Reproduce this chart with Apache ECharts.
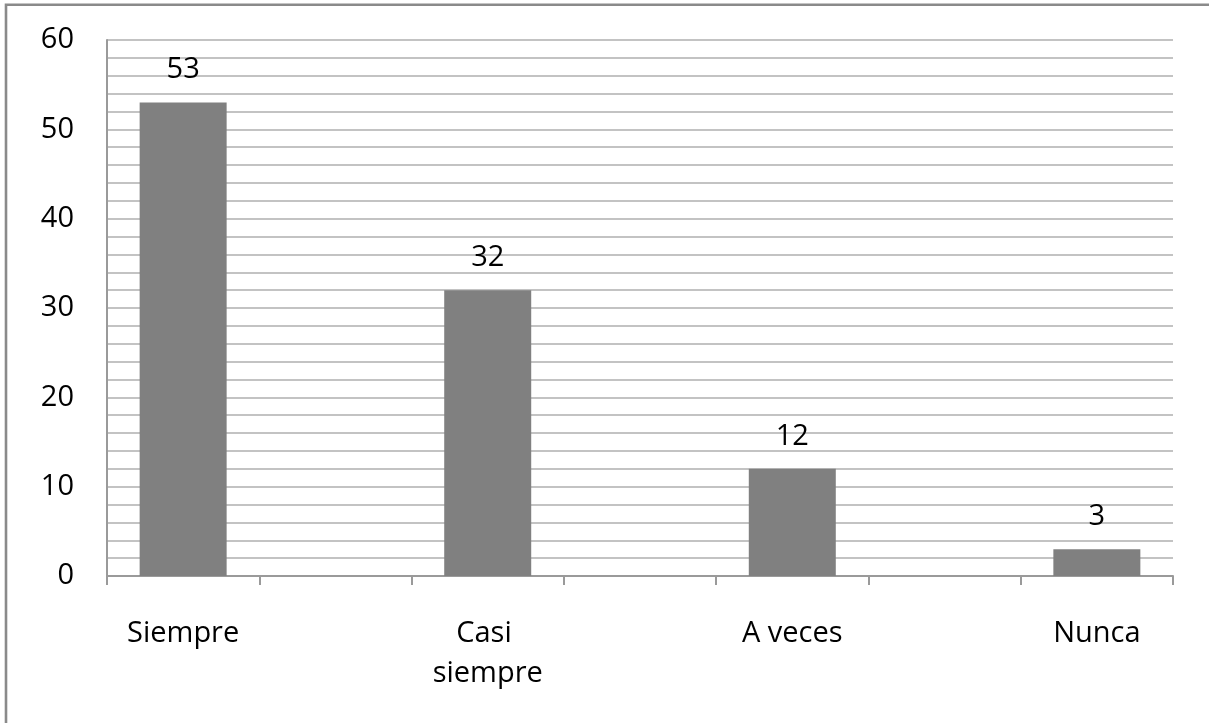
<!DOCTYPE html>
<html>
<head>
<meta charset="utf-8">
<script src="https://cdn.jsdelivr.net/npm/echarts@6/dist/echarts.min.js"></script>
<style>
  html, body { margin: 0; padding: 0; background: #fff; }
  #chart { width: 1209px; height: 723px; }
</style>
</head>
<body>
<div id="chart"></div>
<script>
// Responses per answer option
const answers = ['Siempre', 'Casi siempre', 'A veces', 'Nunca'];
const counts = [53, 32, 12, 3];
const yTicks = [0, 10, 20, 30, 40, 50, 60];

// Each answer is followed by an empty slot, which gives the wide gaps between bars
const categories = [];
const values = [];
answers.forEach(function (a, i) {
  categories.push(a);
  values.push(counts[i]);
  if (i < answers.length - 1) {
    categories.push('');
    values.push('-');
  }
});

const FONT = '"Open Sans", sans-serif';
const chart = echarts.init(document.getElementById('chart'), null, { renderer: 'canvas' });

chart.setOption({
  animation: false,
  backgroundColor: '#ffffff',
  graphic: [{
    type: 'rect',
    shape: { x: 6, y: 4.7, width: 1400, height: 900 },
    style: { fill: 'none', stroke: '#8a8a8a', lineWidth: 2.6 },
    silent: true
  }],
  grid: { left: 107, right: 36, top: 40, bottom: 147, containLabel: false },
  xAxis: {
    type: 'category',
    data: categories,
    boundaryGap: true,
    axisLine: { show: true, lineStyle: { color: '#9a9a9a', width: 2 } },
    axisTick: { show: true, length: 9, alignWithLabel: false, interval: 0, lineStyle: { color: '#9a9a9a', width: 2 } },
    axisLabel: {
      interval: 0,
      margin: 38,
      color: '#000',
      fontFamily: FONT,
      fontSize: 29,
      lineHeight: 40,
      width: 140,
      overflow: 'break'
    },
    splitLine: { show: false }
  },
  yAxis: {
    type: 'value',
    min: yTicks[0],
    max: yTicks[yTicks.length - 1],
    interval: 10,
    axisLine: { show: true, lineStyle: { color: '#9a9a9a', width: 2 } },
    axisTick: { show: false },
    minorTick: { show: false, splitNumber: 5 },
    axisLabel: { margin: 33, color: '#000', fontFamily: FONT, fontSize: 29 },
    splitLine: { show: true, lineStyle: { color: '#c3c3c3', width: 2 } },
    minorSplitLine: { show: true, lineStyle: { color: '#c3c3c3', width: 2 } }
  },
  series: [{
    type: 'bar',
    data: values,
    barWidth: 87,
    itemStyle: { color: '#808080' },
    label: {
      show: true,
      position: 'top',
      distance: 18,
      color: '#000',
      fontFamily: FONT,
      fontSize: 29
    }
  }]
});
</script>
</body>
</html>
